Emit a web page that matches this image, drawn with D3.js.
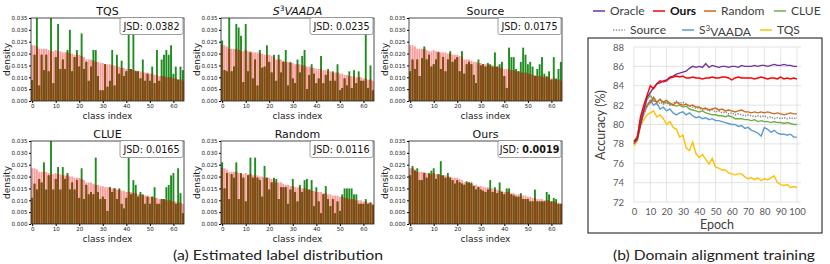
<!DOCTYPE html>
<html>
<head>
<meta charset="utf-8">
<script src="https://cdn.jsdelivr.net/npm/d3@7"></script>
<style>
  body { margin: 0; background: #fff; }
  svg { display: block; }
</style>
</head>
<body>
<svg id="fig" width="830" height="264"></svg>
<script>
// ---------- (a) label distribution data ----------
const classes = d3.range(65);
const target = [0.0235,0.0235,0.023,0.022,0.022,0.022,0.022,0.0215,0.021,0.021,0.0215,0.021,0.021,0.0205,0.0205,0.0205,0.02,0.02,0.0195,0.0195,
  0.0195,0.019,0.0185,0.0175,0.0175,0.0175,0.017,0.0165,0.0165,0.016,0.016,0.0155,0.0155,0.0155,0.015,0.015,0.0145,0.0145,0.014,0.014,
  0.0135,0.0135,0.0135,0.013,0.013,0.0125,0.0125,0.012,0.012,0.012,0.0115,0.0115,0.011,0.011,0.0105,0.0105,0.0105,0.01,0.01,0.01,
  0.0095,0.0095,0.009,0.009,0.0085];
const estTQS = [0.0088,0.0195,0.036,0.0065,0.0195,0.013,0.0195,0.0125,0.036,0.0075,0.0185,0.0325,0.0135,0.0175,0.0135,0.0215,0.030,0.0125,0.0185,0.0215,
  0.0145,0.0285,0.0135,0.0165,0.0085,0.0145,0.0215,0.0215,0.0105,0.0045,0.0045,0.0155,0.006,0.0085,0.0215,0.0065,0.0195,0.0115,0.017,0.0105,
  0.0125,0.032,0.0135,0.032,0.0125,0.0125,0.0095,0.0175,0.0085,0.0115,0.0085,0.0145,0.0075,0.0215,0.0085,0.0175,0.0195,0.0215,0.0195,0.0235,
  0.0115,0.0145,0.009,0.0145,0.013];
const estS3VAADA = [0.0255,0.013,0.0125,0.036,0.0125,0.0145,0.0325,0.031,0.0275,0.008,0.0325,0.0125,0.0205,0.0095,0.0175,0.0065,0.0215,0.014,0.0145,0.0235,
  0.0165,0.012,0.0195,0.0085,0.0195,0.012,0.0165,0.0215,0.0065,0.0165,0.0095,0.0075,0.0175,0.012,0.019,0.0215,0.005,0.011,0.0155,0.0115,
  0.0075,0.0095,0.019,0.0075,0.011,0.0135,0.0085,0.0125,0.0085,0.0155,0.0045,0.0055,0.0095,0.0065,0.0125,0.0055,0.013,0.0075,0.0125,0.0085,
  0.0085,0.0285,0.0055,0.015,0.0045];
const estSource = [0.0125,0.0175,0.0135,0.0175,0.0105,0.018,0.023,0.0175,0.0195,0.0145,0.0155,0.0175,0.0205,0.0135,0.0185,0.0125,0.0175,0.021,0.0165,0.0175,
  0.0185,0.0125,0.021,0.0115,0.0155,0.0165,0.0155,0.011,0.0075,0.0175,0.015,0.0155,0.0145,0.016,0.0155,0.0145,0.0205,0.0145,0.0155,0.0165,
  0.0105,0.0055,0.0225,0.0185,0.0185,0.0135,0.0125,0.0165,0.0225,0.0195,0.0155,0.0165,0.0145,0.0105,0.0135,0.0155,0.0185,0.0115,0.0105,0.0125,
  0.009,0.0185,0.0095,0.0135,0.0165];
const estCLUE = [0.011,0.017,0.0145,0.019,0.0175,0.026,0.0145,0.0205,0.036,0.0145,0.019,0.024,0.0145,0.024,0.019,0.0215,0.0145,0.0175,0.0145,0.0185,
  0.011,0.0235,0.0105,0.0165,0.0125,0.0135,0.0125,0.028,0.0135,0.0105,0.0115,0.0105,0.0055,0.0155,0.0135,0.015,0.0105,0.015,0.0085,0.0065,
  0.011,0.030,0.0125,0.0185,0.0165,0.0115,0.0135,0.0125,0.0085,0.0115,0.0085,0.0115,0.0155,0.0085,0.0085,0.0105,0.0105,0.0155,0.0165,0.0205,
  0.0215,0.0085,0.0235,0.013,0.0045];
const estRandom = [0.026,0.015,0.0215,0.0105,0.021,0.0195,0.026,0.0105,0.0215,0.0195,0.0095,0.0205,0.028,0.0195,0.028,0.0195,0.0185,0.0115,0.0245,0.0195,
  0.0145,0.0175,0.0195,0.019,0.0105,0.0155,0.0155,0.0155,0.0085,0.0145,0.019,0.0135,0.0095,0.0165,0.0135,0.0185,0.019,0.0145,0.0185,0.0075,
  0.0155,0.0095,0.0045,0.0125,0.016,0.0105,0.0075,0.0105,0.0045,0.0095,0.0055,0.0125,0.015,0.015,0.015,0.015,0.0125,0.0125,0.0085,0.0085,
  0.0085,0.0105,0.0085,0.009,0.008];
const estOurs = [0.0205,0.0245,0.0225,0.0235,0.0185,0.0185,0.0215,0.0195,0.0215,0.0225,0.0235,0.019,0.021,0.0265,0.0205,0.0195,0.0215,0.0195,0.0185,0.017,
  0.0185,0.0175,0.017,0.0165,0.018,0.0175,0.0175,0.016,0.0145,0.0155,0.0145,0.014,0.0135,0.0145,0.0185,0.0135,0.0155,0.013,0.0175,0.0135,
  0.0125,0.015,0.015,0.0125,0.012,0.0115,0.0115,0.013,0.0105,0.0105,0.0105,0.0095,0.0095,0.0145,0.0095,0.0095,0.0095,0.0095,0.0135,0.0125,
  0.0095,0.011,0.0105,0.0085,0.0085];
const panelTitles = ['TQS', 'S3VAADA', 'Source', 'CLUE', 'Random', 'Ours'];
const panelEstimates = [estTQS, estS3VAADA, estSource, estCLUE, estRandom, estOurs];
const jsdValues = ['0.0382', '0.0235', '0.0175', '0.0165', '0.0116', '0.0019'];
const densityTicks = [0, 0.005, 0.01, 0.015, 0.02, 0.025, 0.03, 0.035];
const classTicks = [0, 10, 20, 30, 40, 50, 60];

// ---------- (b) domain alignment training data (every 2 epochs) ----------
const epochs = d3.range(0, 101, 2);
const accOracle = [78.2,78.5,80.0,81.5,82.8,83.3,83.8,84.2,84.3,84.5,84.6,84.9,85.0,85.2,85.3,85.4,85.5,85.8,86.0,85.9,
  86.0,85.9,86.3,85.9,86.1,86.0,85.9,86.0,86.0,85.9,86.0,86.0,85.9,86.1,86.0,86.0,86.0,86.1,86.0,86.1,
  86.1,86.0,86.1,86.2,86.1,86.1,86.2,86.1,86.1,86.0,86.0];
const accOurs = [78.3,78.6,80.8,82.0,83.0,84.0,83.7,84.2,84.5,84.4,84.5,84.8,84.9,85.0,84.9,85.0,84.8,84.8,84.9,84.8,
  84.8,84.7,84.8,84.8,84.9,84.8,84.8,84.9,84.9,84.8,84.6,84.8,84.9,84.8,84.8,84.8,84.8,84.7,84.8,84.9,
  84.8,84.7,84.8,84.8,84.7,84.9,84.7,84.8,84.7,84.8,84.7];
const accRandom = [78.0,78.5,80.0,81.2,82.0,82.3,82.8,82.3,82.6,82.3,82.5,82.2,82.0,82.3,82.1,82.0,82.1,81.9,82.0,81.8,
  81.8,81.6,81.7,81.5,81.6,81.7,81.5,81.6,81.4,81.5,81.4,81.3,81.4,81.5,81.3,81.3,81.2,81.3,81.2,81.3,
  81.2,81.3,81.2,81.1,81.2,81.1,81.0,81.1,81.2,81.1,81.1];
const accCLUE = [78.2,78.8,80.5,81.5,82.6,83.0,82.5,82.3,82.6,82.2,82.3,82.1,82.0,81.9,82.0,81.8,81.9,81.6,81.5,81.4,
  81.3,81.4,81.2,81.1,81.0,81.0,80.9,80.9,80.8,80.9,80.8,80.6,80.6,80.6,80.5,80.5,80.4,80.5,80.3,80.4,
  80.3,80.3,80.2,80.3,80.2,80.2,80.1,80.2,80.1,80.0,80.0];
const accSource = [78.0,78.6,80.2,81.0,81.8,82.2,82.5,82.0,82.3,82.1,82.3,82.0,82.2,82.4,82.2,82.3,82.1,81.9,81.8,81.7,
  81.7,81.5,81.6,81.4,81.5,81.3,81.4,81.2,81.3,81.1,81.2,81.0,81.1,81.0,80.9,81.0,80.9,80.8,80.9,80.8,
  80.9,80.7,80.8,80.6,80.7,80.6,80.7,80.6,80.7,80.6,80.7];
const accS3VAADA = [78.0,78.4,80.2,81.3,82.0,82.5,82.0,82.2,81.6,81.8,81.4,81.6,81.2,81.0,81.2,81.3,81.0,81.2,80.9,80.7,
  80.8,80.6,80.7,80.5,80.6,80.4,80.4,80.3,80.2,80.1,80.0,80.0,79.8,79.9,79.6,79.7,79.4,79.3,79.1,78.8,
  79.7,79.5,79.2,79.4,79.1,79.0,79.0,78.9,79.0,78.7,78.7];
const accTQS = [77.8,78.3,79.8,80.5,81.0,81.2,81.4,80.8,81.0,80.6,80.0,80.3,79.7,79.5,78.7,78.9,77.6,77.3,78.2,77.0,
  76.6,76.9,76.4,75.9,76.5,75.6,75.5,75.3,75.3,75.0,74.9,74.8,74.9,74.9,74.6,74.4,74.5,74.3,74.5,74.2,
  74.4,74.3,74.5,74.7,74.0,73.8,73.7,73.8,73.5,73.6,73.5];
const accTicks = [72, 74, 76, 78, 80, 82, 84, 86, 88];
const epochTicks = [0, 10, 20, 30, 40, 50, 60, 70, 80, 90, 100];

const svg = d3.select('#fig');
const pink = '#ff9a9a', green = '#1e8c1e', brown = '#8a4512';

// ---------- (a) panels ----------
const colX = [31, 221, 409];
const rowY = [18, 141];
const pw = 153, ph = 83;

panelTitles.forEach((title, k) => {
  const est = panelEstimates[k];
  const left = colX[k % 3], top = rowY[Math.floor(k / 3)];
  const g = svg.append('g').attr('transform', `translate(${left},${top})`);

  const x = d3.scaleLinear().domain([-0.5, 64.5]).range([0, pw]);
  const y = d3.scaleLinear().domain([0, 0.035]).range([ph, 0]).clamp(true);
  const bw = x(0.8) - x(0);

  // target distribution (pink)
  g.selectAll('rect.tgt').data(classes).enter().append('rect')
   .attr('class', 'tgt')
   .attr('x', i => x(i - 0.4)).attr('width', bw)
   .attr('y', i => y(target[i])).attr('height', i => ph - y(target[i]))
   .style('fill', pink);
  // estimate (green)
  g.selectAll('rect.est').data(classes).enter().append('rect')
   .attr('class', 'est')
   .attr('x', i => x(i - 0.4)).attr('width', bw)
   .attr('y', i => y(est[i])).attr('height', i => ph - y(est[i]))
   .style('fill', green);
  // overlap (brown)
  g.selectAll('rect.ovl').data(classes).enter().append('rect')
   .attr('class', 'ovl')
   .attr('x', i => x(i - 0.4)).attr('width', bw)
   .attr('y', i => y(Math.min(est[i], target[i]))).attr('height', i => ph - y(Math.min(est[i], target[i])))
   .style('fill', brown);

  // frame
  g.append('rect').attr('width', pw).attr('height', ph)
   .style('fill', 'none').style('stroke', '#222').style('stroke-width', 0.8);

  g.append('g').call(d3.axisLeft(y).tickValues(densityTicks).tickFormat(d3.format('.3f')).tickSize(2).tickPadding(1.5))
   .call(a => a.select('.domain').remove())
   .call(a => a.selectAll('text').style('font-family', 'DejaVu Sans').style('font-size', '5.6px').style('fill', '#222'));
  g.append('g').attr('transform', `translate(0,${ph})`)
   .call(d3.axisBottom(x).tickValues(classTicks).tickFormat(d3.format('d')).tickSize(2).tickPadding(1.5))
   .call(a => a.select('.domain').remove())
   .call(a => a.selectAll('text').style('font-family', 'DejaVu Sans').style('font-size', '5.6px').style('fill', '#222'));

  g.append('text').attr('transform', `translate(-24,${ph / 2}) rotate(-90)`)
   .attr('text-anchor', 'middle').attr('dy', '0.35em')
   .style('font-family', 'DejaVu Sans').style('font-size', '9px').style('fill', '#222')
   .text('density');
  g.append('text').attr('x', pw / 2).attr('y', ph + 18)
   .attr('text-anchor', 'middle')
   .style('font-family', 'DejaVu Sans').style('font-size', '9px').style('fill', '#222')
   .text('class index');

  // title
  const t = g.append('text').attr('x', pw / 2).attr('y', -3)
   .attr('text-anchor', 'middle')
   .style('font-family', 'DejaVu Sans').style('font-size', '11px').style('fill', '#111');
  if (title === 'S3VAADA') {
    t.append('tspan').style('font-style', 'italic').text('S');
    t.append('tspan').attr('dy', -4).style('font-size', '7.5px').text('3');
    t.append('tspan').attr('dy', 4).style('font-style', 'italic').text('VAADA');
  } else {
    t.text(title);
  }

  // JSD box
  const bx = g.append('g').attr('transform', `translate(${pw - 64},${-0.5})`);
  bx.append('rect').attr('width', 63).attr('height', 17).attr('rx', 2)
   .style('fill', '#fff').style('stroke', '#888').style('stroke-width', 0.8);
  const jt = bx.append('text').attr('x', 31.5).attr('y', 12).attr('text-anchor', 'middle')
   .style('font-family', 'DejaVu Sans').style('font-size', '9.6px').style('fill', '#111');
  jt.append('tspan').text('JSD: ');
  jt.append('tspan').style('font-weight', title === 'Ours' ? 'bold' : 'normal').text(jsdValues[k]);
});

svg.append('text').attr('x', 278).attr('y', 260).attr('text-anchor', 'middle')
   .attr('textLength', 210).attr('lengthAdjust', 'spacingAndGlyphs')
   .style('font-family', 'Lato').style('font-size', '14px').style('fill', '#222')
   .text('(a) Estimated label distribution');

// ---------- (b) line chart ----------
const bx0 = 634, bx1 = 797, by0 = 202, by1 = 47;
const xs = d3.scaleLinear().domain([0, 100]).range([bx0, bx1]);
const ys = d3.scaleLinear().domain([72, 88]).range([by0, by1]);

svg.append('rect').attr('x', 588).attr('y', 38).attr('width', 234).attr('height', 195)
   .style('fill', 'none').style('stroke', '#111').style('stroke-width', 1);

svg.append('g').selectAll('line.hg').data(accTicks).enter().append('line')
   .attr('x1', bx0).attr('x2', xs(100) + 4).attr('y1', d => ys(d)).attr('y2', d => ys(d))
   .style('stroke', '#dcdcdc').style('stroke-width', 0.8);
svg.append('g').selectAll('line.vg').data(epochTicks).enter().append('line')
   .attr('x1', d => xs(d)).attr('x2', d => xs(d)).attr('y1', by1).attr('y2', by0)
   .style('stroke', '#dcdcdc').style('stroke-width', 0.8);

svg.append('g').attr('transform', `translate(${bx0},0)`)
   .call(d3.axisLeft(ys).tickValues(accTicks).tickSize(0).tickPadding(10))
   .call(a => a.select('.domain').remove())
   .call(a => a.selectAll('text').style('font-family', 'Lato').style('font-size', '9.5px').style('fill', '#595959'));
svg.append('g').attr('transform', `translate(0,${by0})`)
   .call(d3.axisBottom(ys.copy().domain([0, 100]).range([bx0, bx1])).tickValues(epochTicks).tickSize(0).tickPadding(6))
   .call(a => a.select('.domain').remove())
   .call(a => a.selectAll('text').style('font-family', 'Lato').style('font-size', '9.5px').style('fill', '#595959'));

svg.append('text').attr('transform', `translate(601,125) rotate(-90)`)
   .attr('text-anchor', 'middle').attr('dy', '0.35em')
   .style('font-family', 'Lato').style('font-size', '12.5px').style('fill', '#404040')
   .text('Accuracy (%)');
svg.append('text').attr('x', 717).attr('y', 229).attr('text-anchor', 'middle')
   .style('font-family', 'Lato').style('font-size', '12.5px').style('fill', '#404040')
   .text('Epoch');

const series = [
  { name: 'TQS', vals: accTQS, color: '#ffc000', dash: null },
  { name: 'S3VAADA', vals: accS3VAADA, color: '#5b9bd5', dash: null },
  { name: 'CLUE', vals: accCLUE, color: '#70ad47', dash: null },
  { name: 'Source', vals: accSource, color: '#8c8c8c', dash: '1.3,1.3' },
  { name: 'Random', vals: accRandom, color: '#d2691e', dash: null },
  { name: 'Oracle', vals: accOracle, color: '#7030a0', dash: null },
  { name: 'Ours', vals: accOurs, color: '#ff0000', dash: null }
];
const line = d3.line().x((d, i) => xs(epochs[i])).y(d => ys(d));
series.forEach(s => {
  svg.append('path').datum(s.vals).attr('d', line)
     .style('fill', 'none').style('stroke', s.color).style('stroke-width', s.dash ? 1.6 : 1.4)
     .style('stroke-dasharray', s.dash);
});

// legend
const legendItems = [
  { name: 'Oracle', color: '#7030a0', lx: 593, ly: 11 },
  { name: 'Ours', color: '#ff0000', lx: 653, ly: 11, bold: true },
  { name: 'Random', color: '#d2691e', lx: 704, ly: 11 },
  { name: 'CLUE', color: '#70ad47', lx: 774, ly: 11 },
  { name: 'Source', color: '#8c8c8c', lx: 613, ly: 30, dash: '1.3,1.5' },
  { name: 'S3VAADA', color: '#5b9bd5', lx: 682, ly: 30 },
  { name: 'TQS', color: '#ffc000', lx: 760, ly: 30 }
];
legendItems.forEach(it => {
  svg.append('line').attr('x1', it.lx).attr('x2', it.lx + 12).attr('y1', it.ly).attr('y2', it.ly)
     .style('stroke', it.color).style('stroke-width', it.dash ? 1.6 : 1.5).style('stroke-dasharray', it.dash || null);
  const t = svg.append('text').attr('x', it.lx + 17).attr('y', it.ly).attr('dy', '0.35em')
     .style('font-family', 'Lato').style('font-size', '12px').style('fill', it.bold ? '#111' : '#404040')
     .style('font-weight', it.bold ? 'bold' : 'normal');
  if (it.name === 'S3VAADA') {
    t.append('tspan').text('S');
    t.append('tspan').attr('dy', '-0.4em').style('font-size', '8px').text('3');
    t.append('tspan').attr('dy', '0.4em').text('VAADA');
  } else {
    t.text(it.name);
  }
});

svg.append('text').attr('x', 714).attr('y', 260).attr('text-anchor', 'middle')
   .attr('textLength', 202).attr('lengthAdjust', 'spacingAndGlyphs')
   .style('font-family', 'Lato').style('font-size', '14px').style('fill', '#222')
   .text('(b) Domain alignment training');
</script>
</body>
</html>
